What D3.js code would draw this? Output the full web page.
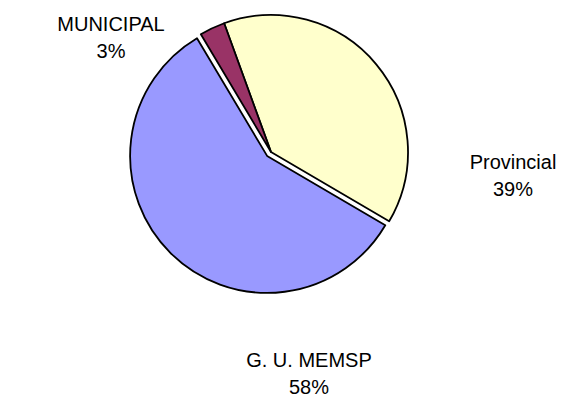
<!DOCTYPE html>
<html>
<head>
<meta charset="utf-8">
<script src="https://cdn.jsdelivr.net/npm/d3@7"></script>
<style>
  body { margin: 0; background: #fff; }
  svg { display: block; }
  .label { font-family: Arial, "Liberation Sans", sans-serif; font-size: 20px; fill: #000; }
</style>
</head>
<body>
<script>
var names = ["Provincial", "G. U. MEMSP", "MUNICIPAL"];
var values = [39, 58, 3];
var pctLabels = ["39%", "58%", "3%"];
var colors = ["#FFFFCC", "#9999FF", "#993366"];
var exploded = [0, 5.5, 0];

var width = 579, height = 410,
    cx = 271, cy = 152, radius = 137;

// label anchor points (center of text block)
var labelPos = [[513, 169], [309, 367], [111, 31]];

var svg = d3.select("body").append("svg")
    .attr("width", width)
    .attr("height", height);

var start = -20 * Math.PI / 180;

var pie = d3.pie()
    .sort(null)
    .startAngle(start)
    .endAngle(start + 2 * Math.PI)
    .value(function(d) { return d; });

var arc = d3.arc()
    .innerRadius(0)
    .outerRadius(radius);

var arcs = pie(values);

var g = svg.append("g")
    .attr("transform", "translate(" + cx + "," + cy + ")");

g.selectAll(".slice")
    .data(arcs)
  .enter().append("path")
    .attr("class", "slice")
    .attr("d", arc)
    .attr("transform", function(d, i) {
      var mid = (d.startAngle + d.endAngle) / 2;
      return "translate(" + (Math.sin(mid) * exploded[i]) + "," + (-Math.cos(mid) * exploded[i]) + ")";
    })
    .style("fill", function(d, i) { return colors[i]; })
    .style("stroke", "#000")
    .style("stroke-width", 1.8)
    .style("stroke-linejoin", "round");

var labels = svg.selectAll(".lbl")
    .data(names)
  .enter().append("text")
    .attr("class", "label")
    .attr("text-anchor", "middle")
    .attr("x", function(d, i) { return labelPos[i][0]; })
    .attr("y", function(d, i) { return labelPos[i][1]; });

labels.append("tspan")
    .attr("x", function(d, i) { return labelPos[i][0]; })
    .text(function(d) { return d; });

labels.append("tspan")
    .attr("x", function(d, i) { return labelPos[i][0]; })
    .attr("dy", 27)
    .text(function(d, i) { return pctLabels[i]; });
</script>
</body>
</html>
